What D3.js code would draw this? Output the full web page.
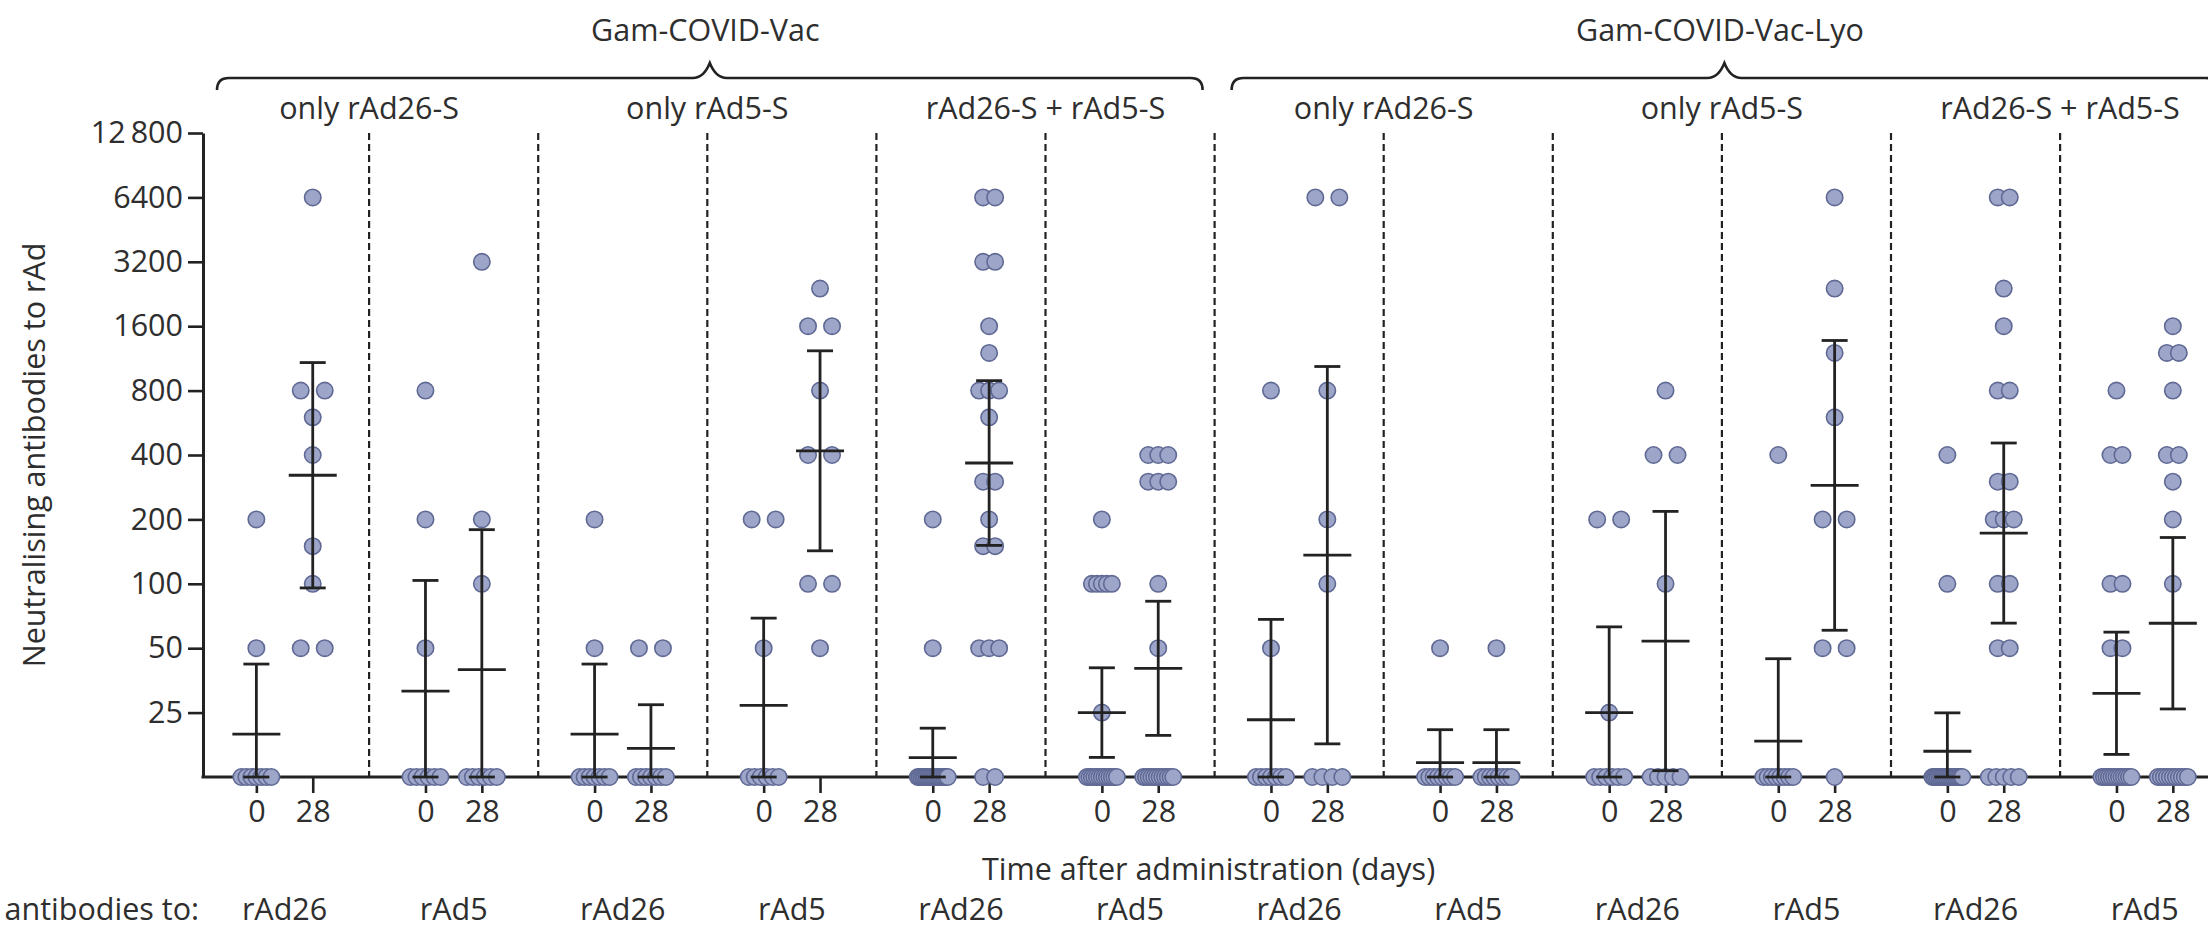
<!DOCTYPE html>
<html>
<head>
<meta charset="utf-8">
<script src="https://cdn.jsdelivr.net/npm/d3@7"></script>
<style>
  html, body { margin: 0; padding: 0; background: #fff; }
  svg { display: block; }
  text { font-family: "Open Sans", "Noto Sans", sans-serif; fill: #2e2e2e; }
</style>
</head>
<body>
<svg id="chart" width="2208" height="945"></svg>
<script>
// ---- labels -------------------------------------------------------------
const vaccines = ["Gam-COVID-Vac", "Gam-COVID-Vac-Lyo"];
const regimens = ["only rAd26-S", "only rAd5-S", "rAd26-S + rAd5-S"];
const antibodyTargets = ["rAd26", "rAd5"];
const days = [0, 28];
const yTickValues = [25, 50, 100, 200, 400, 800, 1600, 3200, 6400, 12800];
const yTickLabels = ["25", "50", "100", "200", "400", "800", "1600", "3200", "6400", "12\u2009800"];
const belowDetection = 12.5; // titres under 1:25 sit on the axis and count as 12.5 in the GMT

// ---- individual titres, each panel = [day 0, day 28] ----------------------
const vac_rAd26S_toRad26 = [
  [200, 50, 12.5, 12.5, 12.5, 12.5, 12.5, 12.5, 12.5],
  [6400, 800, 800, 600, 400, 150, 100, 50, 50]
];
const vac_rAd26S_toRad5 = [
  [800, 200, 50, 12.5, 12.5, 12.5, 12.5, 12.5, 12.5],
  [3200, 200, 100, 12.5, 12.5, 12.5, 12.5, 12.5, 12.5]
];
const vac_rAd5S_toRad26 = [
  [200, 50, 12.5, 12.5, 12.5, 12.5, 12.5, 12.5, 12.5],
  [50, 50, 12.5, 12.5, 12.5, 12.5, 12.5, 12.5, 12.5]
];
const vac_rAd5S_toRad5 = [
  [200, 200, 50, 12.5, 12.5, 12.5, 12.5, 12.5, 12.5],
  [2400, 1600, 1600, 800, 400, 400, 100, 100, 50]
];
const vac_both_toRad26 = [
  [200, 50, 12.5, 12.5, 12.5, 12.5, 12.5, 12.5, 12.5, 12.5, 12.5, 12.5, 12.5, 12.5, 12.5, 12.5, 12.5, 12.5, 12.5, 12.5],
  [6400, 6400, 3200, 3200, 1600, 1200, 800, 800, 800, 600, 300, 300, 200, 150, 150, 50, 50, 50, 12.5, 12.5]
];
const vac_both_toRad5 = [
  [200, 100, 100, 100, 100, 100, 25, 12.5, 12.5, 12.5, 12.5, 12.5, 12.5, 12.5, 12.5, 12.5, 12.5, 12.5, 12.5, 12.5],
  [400, 400, 400, 300, 300, 300, 100, 50, 12.5, 12.5, 12.5, 12.5, 12.5, 12.5, 12.5, 12.5, 12.5, 12.5, 12.5, 12.5]
];
const lyo_rAd26S_toRad26 = [
  [800, 50, 12.5, 12.5, 12.5, 12.5, 12.5, 12.5, 12.5],
  [6400, 6400, 800, 200, 100, 12.5, 12.5, 12.5, 12.5]
];
const lyo_rAd26S_toRad5 = [
  [50, 12.5, 12.5, 12.5, 12.5, 12.5, 12.5, 12.5, 12.5],
  [50, 12.5, 12.5, 12.5, 12.5, 12.5, 12.5, 12.5, 12.5]
];
const lyo_rAd5S_toRad26 = [
  [200, 200, 25, 12.5, 12.5, 12.5, 12.5, 12.5, 12.5],
  [800, 400, 400, 100, 12.5, 12.5, 12.5, 12.5, 12.5]
];
const lyo_rAd5S_toRad5 = [
  [400, 12.5, 12.5, 12.5, 12.5, 12.5, 12.5, 12.5, 12.5],
  [6400, 2400, 1200, 600, 200, 200, 50, 50, 12.5]
];
const lyo_both_toRad26 = [
  [400, 100, 12.5, 12.5, 12.5, 12.5, 12.5, 12.5, 12.5, 12.5, 12.5, 12.5, 12.5, 12.5, 12.5, 12.5, 12.5, 12.5, 12.5, 12.5],
  [6400, 6400, 2400, 1600, 800, 800, 300, 300, 200, 200, 200, 100, 100, 50, 50, 12.5, 12.5, 12.5, 12.5, 12.5]
];
const lyo_both_toRad5 = [
  [800, 400, 400, 100, 100, 50, 50, 12.5, 12.5, 12.5, 12.5, 12.5, 12.5, 12.5, 12.5, 12.5, 12.5, 12.5, 12.5, 12.5],
  [1600, 1200, 1200, 800, 400, 400, 300, 200, 100, 12.5, 12.5, 12.5, 12.5, 12.5, 12.5, 12.5, 12.5, 12.5, 12.5, 12.5]
];

// two-sided 95% t quantiles by degrees of freedom
const tCritical = { 8: 2.306, 19: 2.093 };

// panels left to right: vaccine > regimen > antibody target
const panelTitres = [
  vac_rAd26S_toRad26, vac_rAd26S_toRad5,
  vac_rAd5S_toRad26, vac_rAd5S_toRad5,
  vac_both_toRad26, vac_both_toRad5,
  lyo_rAd26S_toRad26, lyo_rAd26S_toRad5,
  lyo_rAd5S_toRad26, lyo_rAd5S_toRad5,
  lyo_both_toRad26, lyo_both_toRad5
];
const panels = panelTitres.map((titres, i) => ({
  index: i,
  vaccine: Math.floor(i / 6),
  regimen: Math.floor(i / 2) % 3,
  target: i % 2,
  titres
}));

// ---- geometry ------------------------------------------------------------
const W = 2208, H = 945;
const fontSize = 30.5;
const ink = "#222";
const svg = d3.select("#chart");

const panelX = d3.scaleBand()
  .domain(d3.range(panels.length))
  .range([200, 200 + 169.1 * panels.length]);
const dayX = d3.scalePoint()
  .domain(days)
  .range([0, panelX.bandwidth()])
  .padding(1);
const y = d3.scaleLog().base(2)
  .domain([belowDetection, 12800])
  .range([777, 133]);
const axisX = 203;

// geometric mean titre with 95% CI on the log2 scale
function gmtSummary(values) {
  const logs = values.map(v => Math.log2(v));
  const m = d3.mean(logs);
  const half = tCritical[logs.length - 1] * d3.deviation(logs) / Math.sqrt(logs.length);
  return {
    gmt: Math.pow(2, m),
    lo: Math.max(Math.pow(2, m - half), belowDetection),
    hi: Math.pow(2, m + half)
  };
}

// spread tied values sideways around the column centre
function spread(values) {
  const n = values.length;
  const step = n > 10 ? 12 : 24;
  const out = [];
  d3.groups(values, v => v).forEach(([v, vs]) => {
    const k = vs.length;
    const maxWidth = v === belowDetection ? 30 : (n > 10 ? 20 : 30);
    const s = k > 1 ? Math.min(step, maxWidth / (k - 1)) : 0;
    vs.forEach((_, j) => out.push({ value: v, dx: (j - (k - 1) / 2) * s }));
  });
  return out;
}

const columns = panels.flatMap(p => days.map((day, di) => ({
  panel: p.index,
  day,
  cx: panelX(p.index) + dayX(day),
  values: p.titres[di],
  stats: gmtSummary(p.titres[di])
})));

// ---- panel separators ----------------------------------------------------
svg.append("g").selectAll("line")
  .data(d3.range(1, panels.length))
  .join("line")
  .attr("x1", i => panelX(i)).attr("x2", i => panelX(i))
  .attr("y1", y(12800)).attr("y2", y(belowDetection))
  .attr("stroke", ink).attr("stroke-width", 2.2)
  .attr("stroke-dasharray", "7,4");

// ---- axes ----------------------------------------------------------------
const yAxis = svg.append("g")
  .attr("transform", `translate(${axisX},0)`)
  .call(d3.axisLeft(y)
    .tickValues(yTickValues)
    .tickFormat((d, i) => yTickLabels[i])
    .tickSize(15).tickSizeOuter(0).tickPadding(5));
yAxis.select(".domain").attr("stroke", ink).attr("stroke-width", 3);
yAxis.selectAll(".tick line").attr("stroke", ink).attr("stroke-width", 2.6);
yAxis.selectAll(".tick text").attr("font-size", fontSize).attr("font-family", null).attr("fill", "#2e2e2e");

svg.append("line")
  .attr("x1", axisX - 1.5).attr("x2", W)
  .attr("y1", y(belowDetection)).attr("y2", y(belowDetection))
  .attr("stroke", ink).attr("stroke-width", 3);

panels.forEach(p => {
  const g = svg.append("g")
    .attr("transform", `translate(${panelX(p.index)},${y(belowDetection)})`)
    .call(d3.axisBottom(dayX).tickSize(16).tickPadding(7));
  g.select(".domain").remove();
  g.selectAll(".tick line").attr("stroke", ink).attr("stroke-width", 2.6);
  g.selectAll(".tick text").attr("font-size", fontSize).attr("font-family", null).attr("fill", "#2e2e2e");
});

// ---- individual titres ---------------------------------------------------
const dots = svg.append("g");
columns.forEach(c => {
  dots.selectAll(null)
    .data(spread(c.values))
    .join("circle")
    .attr("cx", d => c.cx + d.dx)
    .attr("cy", d => y(d.value))
    .attr("r", 8.2)
    .attr("fill", "#9da5c9")
    .attr("stroke", "#5f6994")
    .attr("stroke-width", 1.6);
});

// ---- GMT with 95% CI -----------------------------------------------------
const summary = svg.append("g").attr("stroke", ink).attr("stroke-width", 2.8);
columns.forEach(c => {
  const s = c.stats;
  summary.append("line")
    .attr("x1", c.cx).attr("x2", c.cx)
    .attr("y1", y(s.lo)).attr("y2", y(s.hi));
  [s.lo, s.hi].forEach(v => summary.append("line")
    .attr("x1", c.cx - 13).attr("x2", c.cx + 13)
    .attr("y1", y(v)).attr("y2", y(v)));
  summary.append("line")
    .attr("x1", c.cx - 24).attr("x2", c.cx + 24)
    .attr("y1", y(s.gmt)).attr("y2", y(s.gmt));
});

// ---- headers -------------------------------------------------------------
const braceY = 78;
function bracePath(x0, x1) {
  const cx = (x0 + x1) / 2;
  return `M${x0},${braceY + 12} Q${x0},${braceY} ${x0 + 12},${braceY}` +
         ` L${cx - 17},${braceY} Q${cx - 6},${braceY} ${cx},${braceY - 15}` +
         ` Q${cx + 6},${braceY} ${cx + 17},${braceY}` +
         ` L${x1 - 12},${braceY} Q${x1},${braceY} ${x1},${braceY + 12}`;
}
vaccines.forEach((name, v) => {
  const x0 = panelX(v * 6);
  const x1 = panelX(v * 6 + 5) + panelX.bandwidth();
  svg.append("path")
    .attr("d", bracePath(x0 + 17, x1 - 12))
    .attr("fill", "none").attr("stroke", ink).attr("stroke-width", 2.6);
  svg.append("text")
    .attr("x", (x0 + x1) / 2 - 2).attr("y", 41)
    .attr("text-anchor", "middle").attr("font-size", fontSize)
    .text(name);
  regimens.forEach((r, k) => {
    svg.append("text")
      .attr("x", panelX(v * 6 + k * 2 + 1)).attr("y", 119)
      .attr("text-anchor", "middle").attr("font-size", fontSize)
      .text(r);
  });
});

// ---- axis titles and target row -----------------------------------------
svg.append("text")
  .attr("transform", `translate(33,${(y(12800) + y(belowDetection)) / 2}) rotate(-90)`)
  .attr("text-anchor", "middle").attr("dominant-baseline", "central")
  .attr("font-size", fontSize)
  .text("Neutralising antibodies to rAd");

svg.append("text")
  .attr("x", (panelX(0) + panelX(11) + panelX.bandwidth()) / 2 - 6).attr("y", 880)
  .attr("text-anchor", "middle").attr("font-size", fontSize)
  .text("Time after administration (days)");

svg.append("text")
  .attr("x", 199).attr("y", 920)
  .attr("text-anchor", "end").attr("font-size", fontSize)
  .text("antibodies to:");

svg.append("g").selectAll("text")
  .data(panels)
  .join("text")
  .attr("x", p => panelX(p.index) + panelX.bandwidth() / 2)
  .attr("y", 920)
  .attr("text-anchor", "middle").attr("font-size", fontSize)
  .text(p => antibodyTargets[p.target]);
</script>
</body>
</html>
